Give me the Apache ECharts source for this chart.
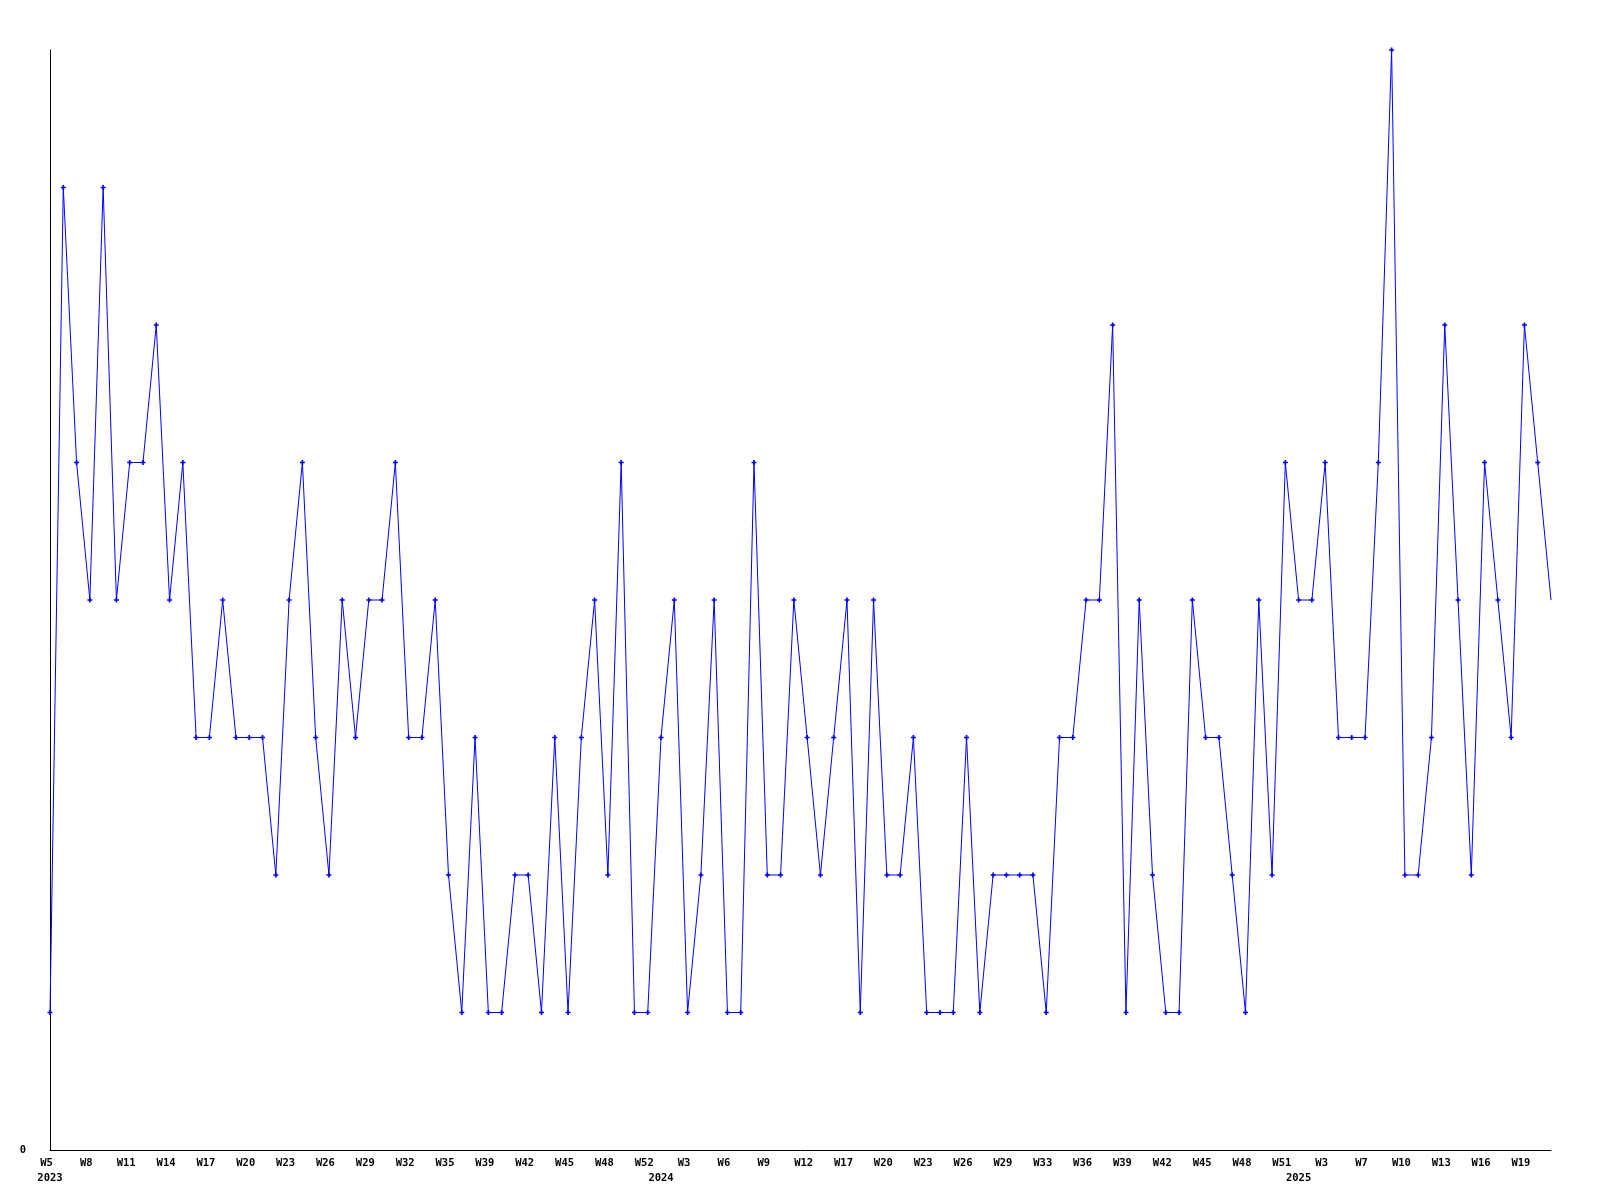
<!DOCTYPE html>
<html>
<head>
<meta charset="utf-8">
<script src="https://cdn.jsdelivr.net/npm/echarts@6/dist/echarts.min.js"></script>
<style>
html,body{margin:0;padding:0;background:#fff;}
#chart{width:1600px;height:1200px;}
</style>
</head>
<body>
<div id="chart"></div>
<script>
// ISO week of each data point
const weeks = [
  'W5','W6','W7','W8','W9','W10','W11','W12','W13','W14',
  'W15','W16','W17','W18','W19','W20','W21','W22','W23','W24',
  'W25','W26','W27','W28','W29','W30','W31','W32','W33','W34',
  'W35','W36','W37','W39','W40','W41','W42','W43','W44','W45',
  'W46','W47','W48','W49','W50','W52',
  'W1','W2','W3','W4','W5','W6','W7','W8','W9','W10',
  'W11','W12','W13','W14','W17','W18','W19','W20','W21','W22',
  'W23','W24','W25','W26','W27','W28','W29','W30','W31','W33',
  'W34','W35','W36','W37','W38','W39','W40','W41','W42','W43',
  'W44','W45','W46','W47','W48','W49','W50','W51',
  'W1','W2','W3','W4','W5','W7','W8','W9','W10','W11',
  'W12','W13','W14','W15','W16','W17','W18','W19','W20','W21'
];
// year of each data point
const years = [
  2023,2023,2023,2023,2023,2023,2023,2023,2023,2023,
  2023,2023,2023,2023,2023,2023,2023,2023,2023,2023,
  2023,2023,2023,2023,2023,2023,2023,2023,2023,2023,
  2023,2023,2023,2023,2023,2023,2023,2023,2023,2023,
  2023,2023,2023,2023,2023,2023,
  2024,2024,2024,2024,2024,2024,2024,2024,2024,2024,
  2024,2024,2024,2024,2024,2024,2024,2024,2024,2024,
  2024,2024,2024,2024,2024,2024,2024,2024,2024,2024,
  2024,2024,2024,2024,2024,2024,2024,2024,2024,2024,
  2024,2024,2024,2024,2024,2024,2024,2024,
  2025,2025,2025,2025,2025,2025,2025,2025,2025,2025,
  2025,2025,2025,2025,2025,2025,2025,2025,2025,2025
];
// values
const values = [
  1,7,5,4,7,4,5,5,6,4,
  5,3,3,4,3,3,3,2,4,5,
  3,2,4,3,4,4,5,3,3,4,
  2,1,3,1,1,2,2,1,3,1,
  3,4,2,5,1,1,3,4,1,2,
  4,1,1,5,2,2,4,3,2,3,
  4,1,4,2,2,3,1,1,1,3,
  1,2,2,2,2,1,3,3,4,4,
  6,1,4,2,1,1,4,3,3,2,
  1,4,2,5,4,4,5,3,3,3,
  5,8,2,2,3,6,4,2,5,4,
  3,6,5,4
];
const yTicks = [0];

const cats = weeks.map((w, i) => years[i] + '-' + w);
const font = 'DejaVu Sans Mono';
const chart = echarts.init(document.getElementById('chart'), null, {renderer: 'canvas'});
const plus = 'path://M2,0H4V2H6V4H4V6H2V4H0V2H2Z';

chart.setOption({
  animation: false,
  backgroundColor: '#ffffff',
  grid: {left: 50, right: 49, top: 50, bottom: 50},
  xAxis: [{
    type: 'category',
    data: cats,
    boundaryGap: false,
    axisLine: {show: true, lineStyle: {color: '#000', width: 1}},
    axisTick: {show: false},
    splitLine: {show: false},
    axisLabel: {
      interval: 2,
      margin: 8,
      color: '#000',
      fontFamily: font,
      fontWeight: 'bold',
      fontSize: 10.5,
      padding: [0, 7, 0, 0],
      formatter: v => v.split('-')[1]
    }
  }, {
    type: 'category',
    data: cats,
    position: 'bottom',
    offset: 15,
    boundaryGap: false,
    axisLine: {show: false},
    axisTick: {show: false},
    splitLine: {show: false},
    axisLabel: {
      interval: (i) => i === 0 || years[i] !== years[i - 1],
      margin: 8,
      color: '#000',
      fontFamily: font,
      fontWeight: 'bold',
      fontSize: 10.5,
      formatter: v => v.split('-')[0]
    }
  }],
  yAxis: {
    type: 'value',
    min: 0,
    max: 8,
    interval: 8,
    axisLine: {show: true, lineStyle: {color: '#000', width: 1}},
    axisTick: {show: false},
    splitLine: {show: false},
    axisLabel: {
      margin: 24,
      color: '#000',
      fontFamily: font,
      fontWeight: 'bold',
      fontSize: 10.5,
      formatter: v => (yTicks.indexOf(v) >= 0 ? String(v) : '')
    }
  },
  series: [{
    type: 'line',
    xAxisIndex: 0,
    data: values.map((v, i) => i === values.length - 1 ? {value: v, symbol: 'none'} : v),
    symbol: plus,
    symbolSize: 5,
    showAllSymbol: true,
    lineStyle: {color: '#0000ff', width: 1},
    itemStyle: {color: '#0000ff', borderWidth: 0},
    emphasis: {disabled: true}
  }]
});
</script>
</body>
</html>
